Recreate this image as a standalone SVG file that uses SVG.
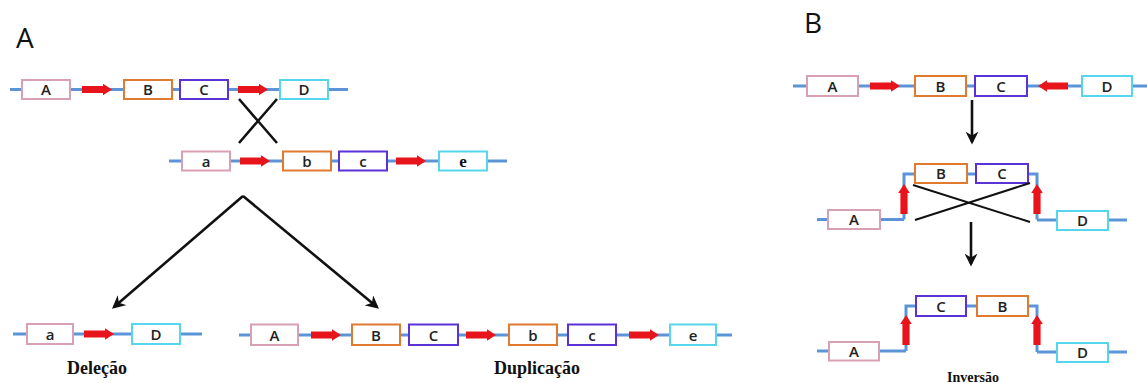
<svg xmlns="http://www.w3.org/2000/svg" xmlns:xlink="http://www.w3.org/1999/xlink" width="1147" height="383" viewBox="0 0 1147 383">
<style>
.bb{stroke:#5b95d8;stroke-width:3;fill:none}
.box{fill:#fff;stroke-width:2}
.pA{stroke:#d8a0b4}.pB{stroke:#e07a30}.pC{stroke:#5a32d6}.pD{stroke:#55d6ec}
.t{font-family:"Open Sans","Liberation Sans",sans-serif;font-size:15px;font-weight:600;fill:#222;text-anchor:middle}
.ts{font-family:"Liberation Serif",serif;font-weight:bold;font-size:17px;fill:#111;text-anchor:middle}
.lab{font-family:"Open Sans","Liberation Sans",sans-serif;font-size:28px;fill:#111}
.cap{font-family:"Liberation Serif",serif;font-weight:bold;fill:#111;text-anchor:middle}
.blk{stroke:#111;stroke-width:2.6;fill:none}
</style>
<defs>
<path id="ra" d="M0,-3.6 H21 V-5.8 L30,0 L21,5.8 V3.6 H0 Z" fill="#e8141c"/>
<marker id="ah" viewBox="0 0 10 10" refX="8" refY="5" markerWidth="5" markerHeight="5" orient="auto" markerUnits="strokeWidth">
<path d="M0,0 L10,5 L0,10 L3,5 Z" fill="#111"/>
</marker>
</defs>

<text class="lab" x="16" y="48">A</text>
<text class="lab" x="804" y="33">B</text>

<g id="backbones">
<path class="bb" d="M10,89.5 H348"/>
<path class="bb" d="M169,161 H507"/>
<path class="bb" d="M13,334 H202"/>
<path class="bb" d="M239,335 H732"/>
<path class="bb" d="M793,86 H1147"/>
<path class="bb" d="M904,219.5 V174 H1037 V219.5"/>
<path class="bb" d="M817,219.5 H904"/>
<path class="bb" d="M1037,220 H1127"/>
<path class="bb" d="M906,351 V306 H1037 V352"/>
<path class="bb" d="M817,351 H906"/>
<path class="bb" d="M1037,352 H1127"/>
</g>

<g id="red-arrows">
<use href="#ra" x="82" y="89.5"/>
<use href="#ra" x="238" y="89.5"/>
<use href="#ra" x="240" y="161"/>
<use href="#ra" x="396" y="161"/>
<use href="#ra" x="84" y="334"/>
<use href="#ra" x="311" y="335"/>
<use href="#ra" x="466" y="335"/>
<use href="#ra" x="629" y="335"/>
<use href="#ra" x="870" y="86"/>
<use href="#ra" transform="translate(1068,86) scale(-1,1)"/>
<use href="#ra" transform="translate(904,214) rotate(-90)"/>
<use href="#ra" transform="translate(1037,214) rotate(-90)"/>
<use href="#ra" transform="translate(906,345) rotate(-90)"/>
<use href="#ra" transform="translate(1037,345) rotate(-90)"/>
</g>

<!-- Panel A row 1 -->
<g id="a1-A"><rect class="box pA" x="22" y="80" width="48" height="19"/><text class="t" x="46" y="95">A</text></g>
<g id="a1-B"><rect class="box pB" x="124" y="80" width="48" height="19"/><text class="t" x="148" y="95">B</text></g>
<g id="a1-C"><rect class="box pC" x="180" y="80" width="48" height="19"/><text class="t" x="204" y="95">C</text></g>
<g id="a1-D"><rect class="box pD" x="280" y="80" width="48" height="19"/><text class="t" x="304" y="95">D</text></g>

<!-- Panel A row 2 -->
<g id="a2-a"><rect class="box pA" x="182" y="151.5" width="48" height="19"/><text class="t" x="206" y="166.5">a</text></g>
<g id="a2-b"><rect class="box pB" x="283" y="151.5" width="48" height="19"/><text class="t" x="307" y="166.5">b</text></g>
<g id="a2-c"><rect class="box pC" x="339" y="151.5" width="48" height="19"/><text class="t" x="363" y="166.5">c</text></g>
<g id="a2-e"><rect class="box pD" x="439" y="151.5" width="48" height="19"/><text class="ts" x="463" y="166.5">e</text></g>

<!-- Deletion -->
<g id="del-a"><rect class="box pA" x="27" y="324" width="46" height="20"/><text class="t" x="50" y="339.5">a</text></g>
<g id="del-D"><rect class="box pD" x="132" y="324" width="48" height="20"/><text class="t" x="156" y="339.5">D</text></g>
<text class="cap" x="97" y="374" font-size="18">Deleção</text>

<!-- Duplication -->
<g id="dup-A"><rect class="box pA" x="251" y="324.5" width="47" height="20.5"/><text class="t" x="274.5" y="340.5">A</text></g>
<g id="dup-B"><rect class="box pB" x="352" y="324.5" width="48" height="20.5"/><text class="t" x="376" y="340.5">B</text></g>
<g id="dup-C"><rect class="box pC" x="409" y="324.5" width="49" height="20.5"/><text class="t" x="433.5" y="340.5">C</text></g>
<g id="dup-b"><rect class="box pB" x="509" y="324.5" width="48" height="20.5"/><text class="t" x="533" y="340.5">b</text></g>
<g id="dup-c"><rect class="box pC" x="568" y="324.5" width="48" height="20.5"/><text class="t" x="592" y="340.5">c</text></g>
<g id="dup-e"><rect class="box pD" x="670" y="324.5" width="46" height="20.5"/><text class="t" x="693" y="340.5">e</text></g>
<text class="cap" x="537" y="374" font-size="18">Duplicação</text>

<!-- Panel B row 1 -->
<g id="b1-A"><rect class="box pA" x="807" y="76" width="51" height="20"/><text class="t" x="832.5" y="91.5">A</text></g>
<g id="b1-B"><rect class="box pB" x="915" y="76" width="51" height="20"/><text class="t" x="940.5" y="91.5">B</text></g>
<g id="b1-C"><rect class="box pC" x="975" y="76" width="52" height="20"/><text class="t" x="1001" y="91.5">C</text></g>
<g id="b1-D"><rect class="box pD" x="1082" y="76" width="50" height="20"/><text class="t" x="1107" y="91.5">D</text></g>

<!-- Panel B row 2 -->
<g id="b2-B"><rect class="box pB" x="915" y="164" width="52" height="19"/><text class="t" x="941" y="179">B</text></g>
<g id="b2-C"><rect class="box pC" x="976" y="164" width="52" height="19"/><text class="t" x="1002" y="179">C</text></g>
<g id="b2-A"><rect class="box pA" x="828" y="210" width="52" height="19"/><text class="t" x="854" y="225">A</text></g>
<g id="b2-D"><rect class="box pD" x="1057" y="211" width="51" height="19"/><text class="t" x="1082.5" y="226">D</text></g>

<!-- Panel B row 3 -->
<g id="b3-C"><rect class="box pC" x="916" y="296" width="50" height="20"/><text class="t" x="941" y="311.5">C</text></g>
<g id="b3-B"><rect class="box pB" x="977" y="296" width="51" height="20"/><text class="t" x="1002.5" y="311.5">B</text></g>
<g id="b3-A"><rect class="box pA" x="829" y="342" width="50" height="18.5"/><text class="t" x="854" y="356.5">A</text></g>
<g id="b3-D"><rect class="box pD" x="1057" y="343" width="51" height="19"/><text class="t" x="1082.5" y="358">D</text></g>
<text class="cap" x="973" y="382" font-size="14">Inversão</text>

<g id="connectors">
<path class="blk" d="M239,99 L277,143 M277,99 L239,143"/>
<path class="blk" d="M243,196 L114,307" marker-end="url(#ah)"/>
<path class="blk" d="M243,196 L377,307" marker-end="url(#ah)"/>
<path class="blk" d="M972,100 V142" marker-end="url(#ah)"/>
<path class="blk" d="M971,222 V264" marker-end="url(#ah)"/>
<path class="blk" style="stroke-width:2" d="M913,185 L1030,222 M1030,183 L915,220"/>
</g>
</svg>
